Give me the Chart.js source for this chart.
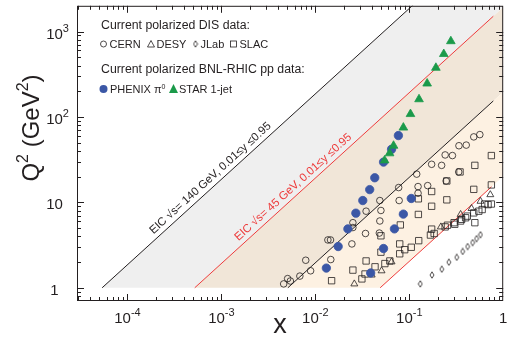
<!DOCTYPE html>
<html>
<head>
<meta charset="utf-8">
<script src="https://cdn.jsdelivr.net/npm/chart.js@4.4.0/dist/chart.umd.min.js"></script>
<style>
  html, body { margin: 0; padding: 0; background: #fff; }
  #wrap { width: 509px; height: 346px; }
</style>
</head>
<body>
<div id="wrap"><canvas id="chart"></canvas></div>
<script>
// ---- data: x (Bjorken x) and Q2 in GeV^2 ----
const cernX  = [0.564, 0.486, 0.404, 0.338, 0.288, 0.241, 0.221, 0.173, 0.120, 0.157, 0.124, 0.247, 0.336, 0.0771, 0.124, 0.078, 0.0486, 0.0347, 0.0499, 0.0251, 0.0486, 0.0251, 0.0342, 0.048, 0.0136, 0.0145, 0.0245, 0.0146, 0.0079, 0.0089, 0.00684, 0.00507, 0.0046, 0.00542];
const cernQ2 = [62.1, 58.4, 46.8, 46.0, 35.3, 35.9, 27.1, 27.9, 21.4, 15.7, 15.3, 17.8, 22.7, 14.9, 12.8, 10.5, 10.5, 7.88, 8.03, 5.78, 6.05, 5.07, 4.32, 4.37, 3.63, 3.63, 3.26, 2.14, 2.10, 1.58, 1.37, 1.28, 1.11, 1.20];

const desyX  = [0.729, 0.573, 0.46, 0.352, 0.217, 0.0648, 0.0507, 0.0398, 0.026];
const desyQ2 = [12.3, 10.3, 8.47, 7.22, 5.16, 2.01, 1.58, 1.41, 1.11];

const jlabX  = [0.131, 0.1745, 0.222, 0.264, 0.320, 0.370, 0.418, 0.472, 0.520, 0.573];
const jlabQ2 = [1.11, 1.41, 1.65, 1.99, 2.27, 2.66, 3.04, 3.38, 3.76, 4.18];

const slacX  = [0.748, 0.748, 0.635, 0.499, 0.347, 0.251, 0.486, 0.251, 0.173, 0.173, 0.125, 0.125, 0.0803, 0.173, 0.0499, 0.0791, 0.0499, 0.0347, 0.0251, 0.0149,
                0.0313, 0.0338, 0.0432, 0.055, 0.0621, 0.0791, 0.0894, 0.105, 0.126, 0.168, 0.184, 0.241, 0.255, 0.300, 0.361, 0.415, 0.486, 0.499, 0.597, 0.690, 0.748, 0.55, 0.398, 0.352, 0.305];
const slacQ2 = [35.3, 16.0, 9.56, 27.1, 22.7, 17.8, 14.2, 10.7, 13.4, 9.0, 11.0, 7.22, 5.44, 4.86, 4.06, 3.26, 2.61, 2.06, 1.61, 1.21,
                1.27, 1.45, 1.76, 1.92, 2.06, 2.50, 2.79, 2.98, 3.56, 4.14, 4.32, 5.16, 5.40, 5.78, 6.33, 6.90, 7.53, 5.78, 8.24, 9.41, 9.56, 7.88, 6.60, 6.05, 5.54];

const phenixX  = [0.0766, 0.0648, 0.0532, 0.0429, 0.0379, 0.032, 0.027, 0.0222, 0.0175, 0.0131, 0.105, 0.0865, 0.0695, 0.0532, 0.0388];
const phenixQ2 = [60.5, 41.8, 29.6, 19.4, 14.1, 10.5, 7.47, 4.89, 3.04, 1.70, 11.1, 7.28, 4.89, 2.88, 1.49];

const starX  = [0.277, 0.233, 0.192, 0.155, 0.127, 0.103, 0.0865, 0.068, 0.0617, 0.0546];
const starQ2 = [770, 545, 376, 246, 161, 108, 75, 46, 37.5, 31];

// EIC kinematic limits (Q2 = s x y), end points of each straight line
const eic140HiX = [5.37e-5, 0.2];   const eic140HiQ2 = [1, 3724];   // y = 0.95, sqrt(s) = 140
const eic45HiX  = [5.2e-4, 0.785];  const eic45HiQ2  = [1, 1510];   // y = 0.95, sqrt(s) = 45
const eic140LoX = [0.0051, 0.785];  const eic140LoQ2 = [1, 154];    // y = 0.01, sqrt(s) = 140
const eic45LoX  = [0.049, 0.75];    const eic45LoQ2  = [1, 15.2];   // y = 0.01, sqrt(s) = 45

// shaded coverage regions (corner values)
const greyX   = [5.37e-5, 0.2, 1, 1, 5.2e-4];   const greyQ2  = [1, 3724, 3724, 1924, 1];
const tanX    = [5.2e-4, 1, 1, 0.0051];         const tanQ2   = [1, 1924, 196, 1];
const creamX  = [0.0051, 1, 1, 0.049];          const creamQ2 = [1, 196, 20.25, 1];

const xTicks = [1e-4, 1e-3, 1e-2, 1e-1, 1];
const xTickExp = ["-4", "-3", "-2", "-1", ""];
const yTicks = [1, 10, 100, 1000];
const yTickExp = ["", "", "2", "3"];

const FONT = '"Liberation Sans", Arial, Helvetica, sans-serif';
const INK = "#231f20";
const RED = "#ee3b3b";
const BLUE = "#3b57a6";
const GREEN = "#1b9a4a";

const pts = (xs, ys) => xs.map((x, i) => ({ x, y: ys[i] }));

// narrow diamond used for JLab
const diamond = document.createElement("canvas");
diamond.width = 6; diamond.height = 8;
(() => {
    const g = diamond.getContext("2d");
    g.strokeStyle = INK; g.lineWidth = 0.8;
    g.beginPath(); g.moveTo(3, 0.8); g.lineTo(5, 4); g.lineTo(3, 7.2); g.lineTo(1, 4); g.closePath(); g.stroke();
})();

const marker = (label, data, style, radius, fillColor, strokeColor) => ({
    label, data, type: "scatter", showLine: false,
    pointStyle: style, pointRadius: radius, pointHoverRadius: radius,
    pointBackgroundColor: fillColor, pointBorderColor: strokeColor, pointBorderWidth: 0.8
});
const kinLine = (data, color) => ({
    data, type: "line", showLine: true, fill: false, pointRadius: 0,
    borderColor: color, borderWidth: 1, tension: 0
});
const region = (data, color) => ({
    data, type: "line", showLine: true, fill: "shape", pointRadius: 0,
    borderWidth: 0, borderColor: "rgba(0,0,0,0)", backgroundColor: color, tension: 0
});

// rich text helper: parts = [[text, size, raise]]
const richWidth = (ctx, parts) => parts.reduce((w, [t, s]) => { ctx.font = `${s}px ${FONT}`; return w + ctx.measureText(t).width; }, 0);
const drawRich = (ctx, parts, x, y) => {
    let cx = x;
    parts.forEach(([t, s, raise]) => {
        ctx.font = `${s}px ${FONT}`;
        ctx.fillText(t, cx, y - (raise || 0));
        cx += ctx.measureText(t).width;
    });
};

const decor = {
    id: "decor",
    afterDatasetsDraw(chart) {
        const { ctx, scales: { x, y } } = chart;
        ctx.save();
        ctx.textBaseline = "alphabetic";

        // labels along the kinematic lines
        const lineLabel = (xs, qs, text, color, startX, offset) => {
            const x0 = x.getPixelForValue(xs[0]), y0 = y.getPixelForValue(qs[0]);
            const x1 = x.getPixelForValue(xs[1]), y1 = y.getPixelForValue(qs[1]);
            const ang = Math.atan2(y1 - y0, x1 - x0);
            const px = x.getPixelForValue(startX);
            const py = y0 + (px - x0) * (y1 - y0) / (x1 - x0);
            ctx.save();
            ctx.translate(px, py);
            ctx.rotate(ang);
            ctx.fillStyle = color;
            ctx.font = `11.4px ${FONT}`;
            ctx.fillText(text, 0, -offset);
            ctx.restore();
        };
        lineLabel(eic140HiX, eic140HiQ2, "EIC \u221As= 140 GeV, 0.01\u2264y \u22640.95", INK, 2.05e-4, 5);
        lineLabel(eic45HiX, eic45HiQ2, "EIC \u221As= 45 GeV, 0.01\u2264y \u22640.95", RED, 1.65e-3, 5);
        ctx.restore();
    },
    afterDraw(chart) {
        const { ctx, chartArea: a, scales: { x, y } } = chart;
        ctx.save();
        ctx.strokeStyle = INK;
        ctx.fillStyle = INK;
        ctx.lineWidth = 1;

        // frame
        ctx.strokeRect(a.left + 0.5, a.top + 0.5, a.right - a.left - 1, a.bottom - a.top - 1);

        // inward ticks on all four sides
        ctx.beginPath();
        for (let e = -5; e <= 0; e++) {
            for (let m = 1; m <= 9; m++) {
                const v = m * Math.pow(10, e);
                const px = Math.round(x.getPixelForValue(v)) + 0.5;
                if (px < a.left + 1 || px > a.right - 1) continue;
                const len = m === 1 ? 7 : 4;
                ctx.moveTo(px, a.bottom); ctx.lineTo(px, a.bottom - len);
                ctx.moveTo(px, a.top); ctx.lineTo(px, a.top + len);
            }
        }
        for (let e = -1; e <= 3; e++) {
            for (let m = 1; m <= 9; m++) {
                const v = m * Math.pow(10, e);
                const py = Math.round(y.getPixelForValue(v)) + 0.5;
                if (py < a.top + 1 || py > a.bottom - 1) continue;
                const len = m === 1 ? 7 : 4;
                ctx.moveTo(a.left, py); ctx.lineTo(a.left + len, py);
                ctx.moveTo(a.right, py); ctx.lineTo(a.right - len, py);
            }
        }
        ctx.stroke();

        // tick labels
        ctx.textBaseline = "alphabetic";
        xTicks.forEach((v, i) => {
            const parts = xTickExp[i] ? [["10", 15, 0], [xTickExp[i], 11, 7]] : [["1", 15, 0]];
            const w = richWidth(ctx, parts);
            drawRich(ctx, parts, x.getPixelForValue(v) - w / 2, 323);
        });
        yTicks.forEach((v, i) => {
            const base = v === 1 ? "1" : "10";
            ctx.font = `15px ${FONT}`;
            const bw = ctx.measureText(base).width;
            const parts = yTickExp[i] ? [[base, 15, 0], [yTickExp[i], 11, 7]] : [[base, 15, 0]];
            drawRich(ctx, parts, 54.5 - bw / 2, y.getPixelForValue(v) + 7);
        });

        // axis titles
        ctx.font = `27px ${FONT}`;
        ctx.textAlign = "center";
        ctx.fillText("x", 280, 333);
        ctx.textAlign = "left";
        ctx.save();
        ctx.translate(39, 128);
        ctx.rotate(-Math.PI / 2);
        const tParts = [["Q", 24, 0], ["2", 16, 11], [" (GeV", 24, 0], ["2", 16, 11], [")", 24, 0]];
        drawRich(ctx, tParts, -richWidth(ctx, tParts) / 2, 0);
        ctx.restore();

        // legend
        ctx.fillStyle = INK;
        ctx.font = `12.3px ${FONT}`;
        ctx.fillText("Current polarized DIS data:", 101, 29);
        ctx.fillText("Current polarized BNL-RHIC pp data:", 101, 73);
        ctx.font = `11px ${FONT}`;
        ctx.fillText("CERN", 109.5, 48);
        ctx.fillText("DESY", 156.5, 48);
        ctx.fillText("JLab", 200.5, 48);
        ctx.fillText("SLAC", 239.5, 48);
        drawRich(ctx, [["PHENIX \u03C0", 11, 0], ["0", 7, 4]], 110, 93);
        ctx.font = `11px ${FONT}`;
        ctx.fillText("STAR 1-jet", 179, 93);

        ctx.lineWidth = 0.8;
        ctx.beginPath(); ctx.arc(103.5, 44, 3, 0, Math.PI * 2); ctx.stroke();
        ctx.beginPath(); ctx.moveTo(151, 40.5); ctx.lineTo(154.5, 47); ctx.lineTo(147.5, 47); ctx.closePath(); ctx.stroke();
        ctx.drawImage(diamond, 192.5, 40);
        ctx.strokeRect(230.5, 41, 6, 6);
        ctx.fillStyle = BLUE;
        ctx.beginPath(); ctx.arc(103.5, 89, 4, 0, Math.PI * 2); ctx.fill();
        ctx.fillStyle = GREEN;
        ctx.beginPath(); ctx.moveTo(173.5, 84); ctx.lineTo(178, 93); ctx.lineTo(169, 93); ctx.closePath(); ctx.fill();

        ctx.restore();
    }
};

new Chart(document.getElementById("chart"), {
    type: "scatter",
    data: {
        datasets: [
            marker("STAR 1-jet", pts(starX, starQ2), "triangle", 5, GREEN, GREEN),
            marker("PHENIX", pts(phenixX, phenixQ2), "circle", 4.2, BLUE, BLUE),
            marker("CERN", pts(cernX, cernQ2), "circle", 3.3, "rgba(0,0,0,0)", INK),
            marker("DESY", pts(desyX, desyQ2), "triangle", 4, "rgba(0,0,0,0)", INK),
            marker("SLAC", pts(slacX, slacQ2), "rect", 4.5, "rgba(0,0,0,0)", INK),
            marker("JLab", pts(jlabX, jlabQ2), diamond, 4, "rgba(0,0,0,0)", INK),
            kinLine(pts(eic140HiX, eic140HiQ2), INK),
            kinLine(pts(eic140LoX, eic140LoQ2), INK),
            kinLine(pts(eic45HiX, eic45HiQ2), RED),
            kinLine(pts(eic45LoX, eic45LoQ2), RED),
            region(pts(creamX, creamQ2), "#fdf1e2"),
            region(pts(tanX, tanQ2), "#f1e6d8"),
            region(pts(greyX, greyQ2), "#efefef")
        ]
    },
    options: {
        responsive: true,
        maintainAspectRatio: false,
        animation: false,
        devicePixelRatio: 1,
        layout: { padding: { left: 77, right: 1, top: 1, bottom: 45 } },
        scales: {
            x: { type: "logarithmic", min: 2.9e-5, max: 1, display: false },
            y: { type: "logarithmic", min: 0.71, max: 2000, display: false }
        },
        plugins: {
            legend: { display: false },
            tooltip: { enabled: false }
        }
    },
    plugins: [decor]
});
</script>
</body>
</html>
